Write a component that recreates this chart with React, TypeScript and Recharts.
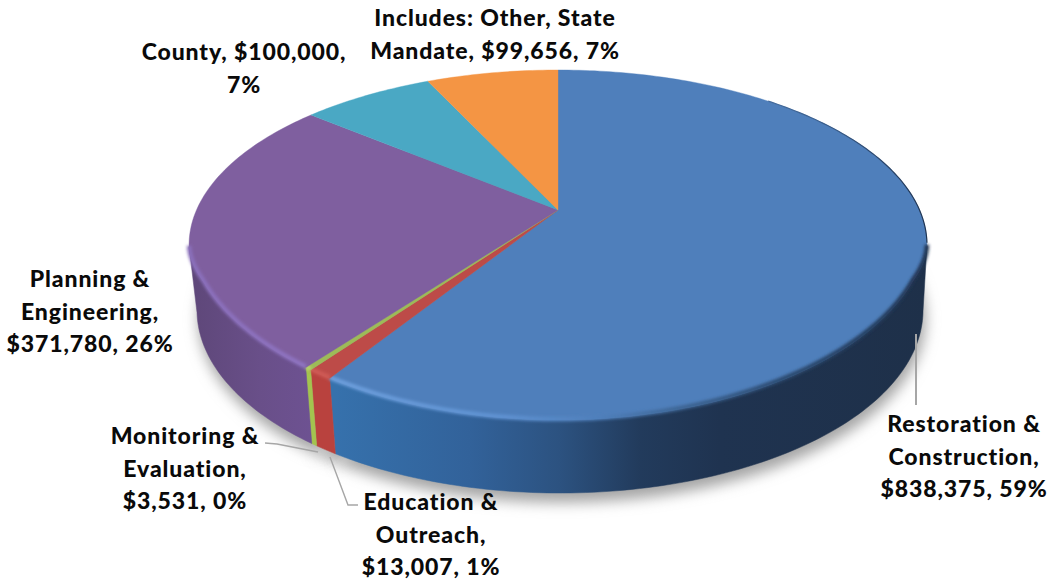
import { Pie, PieChart } from 'recharts';

const categories = [
  'Restoration & Construction',
  'Education & Outreach',
  'Monitoring & Evaluation',
  'Planning & Engineering',
  'County',
  'Includes: Other, State Mandate',
];
const amounts = [838375, 13007, 3531, 371780, 100000, 99656];
const sliceColors = ['#4f7fbb', '#bd4b48', '#9dbb58', '#7f5f9f', '#4aa8c4', '#f49544'];
const labelRows = [
  ['Restoration &', 'Construction,', '$838,375, 59%'],
  ['Education &', 'Outreach,', '$13,007, 1%'],
  ['Monitoring &', 'Evaluation,', '$3,531, 0%'],
  ['Planning &', 'Engineering,', '$371,780, 26%'],
  ['County, $100,000,', '7%'],
  ['Includes: Other, State', 'Mandate, $99,656, 7%'],
];

const chartData = categories.map((name, i) => ({
  name,
  value: amounts[i],
  fill: sliceColors[i],
}));

// text anchor and leader line for each label, same order as categories
const labelAnchors = [
  { x: 964, y: 432, leader: '916,334 916,405', width: 2 },
  { x: 431, y: 510, leader: '330,457 348,505 358,505', width: 1.4 },
  { x: 185, y: 444, leader: '265,443 277,444 318,452', width: 1.4 },
  { x: 90, y: 287, leader: '', width: 0 },
  { x: 244, y: 60, leader: '', width: 0 },
  { x: 495, y: 26, leader: '', width: 0 },
];

// the disc is tilted away from the viewer, so each rim is a projected circle
const TOP = { cx: 558, cy: 210, r: 361.5, lift: 168 };
const BASE = { cx: 560, cy: 273.4, r: 355.7, lift: 175.7 };
const NEAR = 0.2;
const SHOULDER = 15;

type Rim = typeof TOP;

const project = (rim: Rim, deg: number) => {
  const a = (deg * Math.PI) / 180;
  const u = Math.cos(a);
  const v = Math.sin(a);
  const w = 1 + NEAR * v;
  return [rim.cx + (rim.r * u) / w, rim.cy - (rim.lift * v) / w];
};

// upper rim of the wall: the rounded shoulder pulls the front edge in a little
const projectFace = (deg: number) => {
  const p = project(TOP, deg);
  const a = (deg * Math.PI) / 180;
  const fade = Math.min(1, Math.max(0, (-0.2 - Math.sin(a)) / 0.25));
  return [p[0], p[1] - SHOULDER * Math.cos(a) ** 2 * fade];
};

const sweep = (startAngle: number, endAngle: number) => {
  const n = Math.max(2, Math.ceil(Math.abs(endAngle - startAngle)));
  return Array.from({ length: n + 1 }, (_, i) => startAngle + ((endAngle - startAngle) * i) / n);
};

const toPath = (pts: number[][]) =>
  pts.map((p, i) => `${i ? 'L' : 'M'}${p[0].toFixed(2)} ${p[1].toFixed(2)}`).join(' ');

const sinOf = (deg: number) => Math.sin((deg * Math.PI) / 180);
const cosOf = (deg: number) => Math.cos((deg * Math.PI) / 180);

function ShadowSlice(props: any) {
  const pts = sweep(props.startAngle, props.endAngle).map((a) => project(BASE, a));
  const path = `${toPath([[BASE.cx, BASE.cy], ...pts])} Z`;
  return (
    <path
      d={path}
      fill="#a4a4a4"
      stroke="#a4a4a4"
      transform="translate(2 9)"
      filter="url(#shadowBlur)"
    />
  );
}

function WallSlice(props: any) {
  const angles = sweep(props.startAngle, props.endAngle).filter((a) => sinOf(a) <= -0.2);
  if (angles.length < 2) return null;
  const upper = angles.map(projectFace);
  const lower = angles.map((a) => project(BASE, a)).reverse();
  return (
    <path
      d={`${toPath([...upper, ...lower])} Z`}
      fill={`url(#wall${props.index})`}
      stroke={`url(#wall${props.index})`}
      strokeWidth={0.5}
    />
  );
}

function TopSlice(props: any) {
  const angles = sweep(props.startAngle, props.endAngle);
  const pts = angles.map(projectFace);
  const edge = angles.filter((a) => sinOf(a) <= -0.2).map(projectFace);
  const back = angles.filter((a) => sinOf(a) > -0.2 && sinOf(a) < 0.75 && cosOf(a) > 0);
  return (
    <g>
      <path
        d={`${toPath([[TOP.cx, TOP.cy], ...pts])} Z`}
        fill={props.fill}
        stroke={props.fill}
        strokeWidth={0.4}
      />
      {edge.length > 1 && (
        <path
          d={toPath(edge.map((p) => [p[0], p[1] - 1]))}
          fill="none"
          stroke={`url(#edge${props.index})`}
          strokeWidth={4.5}
          filter="url(#edgeBlur)"
        />
      )}
      {back.length > 1 && (
        <path
          d={toPath(back.map((a) => project(TOP, a)))}
          fill="none"
          stroke="url(#backEdge)"
          strokeWidth={1.2}
        />
      )}
    </g>
  );
}

function SliceLabel(props: any) {
  const anchor = labelAnchors[props.index];
  return (
    <g>
      {anchor.leader && (
        <polyline points={anchor.leader} fill="none" stroke="#a6a6a6" strokeWidth={anchor.width} />
      )}
      <text
        x={anchor.x}
        y={anchor.y}
        textAnchor="middle"
        fontFamily="Lato, sans-serif"
        fontWeight={900}
        fontSize={23}
        letterSpacing={0.9}
        fill="#0a0a0a"
      >
        {labelRows[props.index].map((row, i) => (
          <tspan key={row} x={anchor.x} dy={i ? 32.5 : 0}>
            {row}
          </tspan>
        ))}
      </text>
    </g>
  );
}

function Ramp({ id, stops }: { id: string; stops: [number, string][] }) {
  return (
    <linearGradient id={id} gradientUnits="userSpaceOnUse" x1={190} y1={0} x2={930} y2={0}>
      {stops.map(([x, color]) => (
        <stop key={x} offset={(x - 190) / 740} stopColor={color} />
      ))}
    </linearGradient>
  );
}

const pieFrame = { startAngle: 90, endAngle: -270, stroke: 'none', isAnimationActive: false };

export default function App() {
  return (
    <div style={{ position: 'absolute', left: 0, top: 0 }}>
      <PieChart width={1050} height={580}>
        <defs>
          <filter id="shadowBlur" filterUnits="userSpaceOnUse" x={0} y={0} width={1050} height={580}>
            <feGaussianBlur stdDeviation={7} />
          </filter>
          <filter id="edgeBlur" filterUnits="userSpaceOnUse" x={0} y={0} width={1050} height={580}>
            <feGaussianBlur stdDeviation={1.5} />
          </filter>
          <Ramp
            id="wall0"
            stops={[
              [335, '#3671ac'],
              [470, '#32629a'],
              [560, '#2c5280'],
              [640, '#223b5c'],
              [720, '#1f3350'],
              [930, '#1e3049'],
            ]}
          />
          <Ramp id="wall1" stops={[[310, '#b9423e'], [340, '#b9423e']]} />
          <Ramp id="wall2" stops={[[310, '#a3c44f'], [340, '#a3c44f']]} />
          <Ramp id="wall3" stops={[[190, '#5e4779'], [260, '#694f89'], [320, '#6e5293']]} />
          <Ramp id="wall4" stops={[[190, '#3a8aa0'], [930, '#3a8aa0']]} />
          <Ramp id="wall5" stops={[[190, '#c87836'], [930, '#c87836']]} />
          <Ramp
            id="edge0"
            stops={[
              [335, '#6d9fdd'],
              [500, '#5f92d2'],
              [600, '#4f7fbb'],
              [680, '#3d6594'],
              [780, '#2b4a70'],
              [930, '#1f3350'],
            ]}
          />
          <Ramp id="edge1" stops={[[310, '#cf5a55'], [340, '#cf5a55']]} />
          <Ramp id="edge2" stops={[[310, '#b8d66c'], [340, '#b8d66c']]} />
          <Ramp id="edge3" stops={[[190, '#8a6fbb'], [320, '#8f74c2']]} />
          <Ramp id="edge4" stops={[[190, '#4aa8c4'], [930, '#4aa8c4']]} />
          <Ramp id="edge5" stops={[[190, '#f49544'], [930, '#f49544']]} />
          <Ramp id="backEdge" stops={[[640, '#5c88bf'], [820, '#3a5f8e'], [930, '#1f3350']]} />
        </defs>
        <Pie
          {...pieFrame}
          data={chartData}
          dataKey="value"
          cx={BASE.cx}
          cy={BASE.cy}
          outerRadius={BASE.r}
          shape={ShadowSlice}
        />
        <Pie
          {...pieFrame}
          data={chartData}
          dataKey="value"
          cx={BASE.cx}
          cy={BASE.cy}
          outerRadius={BASE.r}
          shape={WallSlice}
        />
        <Pie
          {...pieFrame}
          data={chartData}
          dataKey="value"
          cx={TOP.cx}
          cy={TOP.cy}
          outerRadius={TOP.r}
          shape={TopSlice}
          label={SliceLabel}
          labelLine={false}
        />
      </PieChart>
    </div>
  );
}
